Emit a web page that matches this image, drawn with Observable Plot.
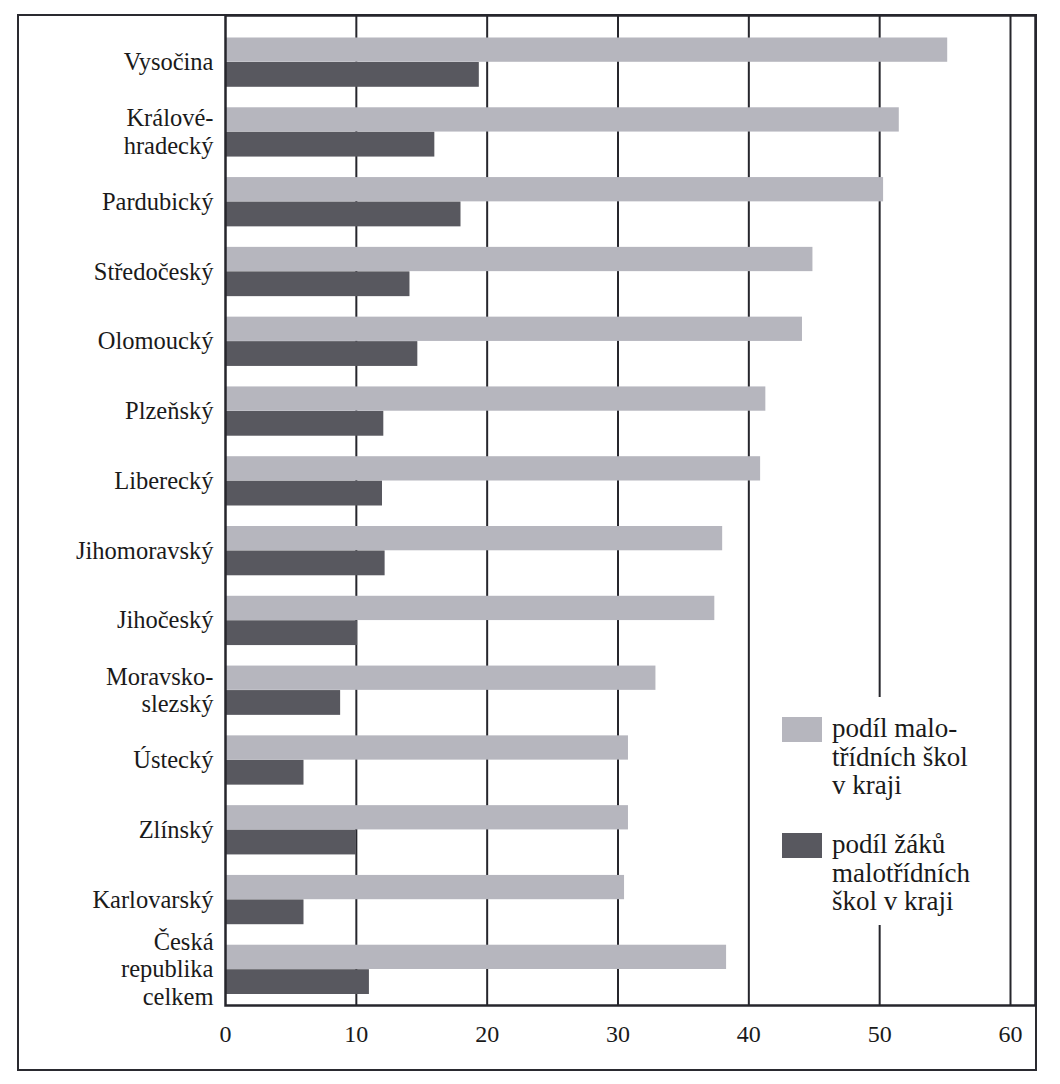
<!DOCTYPE html>
<html>
<head>
<meta charset="utf-8">
<script src="https://cdn.jsdelivr.net/npm/d3@7"></script>
<script src="https://cdn.jsdelivr.net/npm/@observablehq/plot@0.6"></script>
<style>
  html, body { margin: 0; padding: 0; background: #ffffff; }
  #wrap { position: relative; width: 1060px; height: 1084px; background: #ffffff; overflow: hidden; }
  #outer { position: absolute; left: 17px; top: 14px; width: 1016px; height: 1053px; border: 2.5px solid #2a2a30; box-sizing: content-box; }
  #chart { position: absolute; left: 0; top: 0; }
  #legend { position: absolute; left: 770px; top: 697px; width: 228px; height: 228px; background: #ffffff;
            font-family: "Liberation Serif", "Times New Roman", serif; font-size: 27px; color: #1a1a1a; }
  .item { position: absolute; left: 12px; }
  .sw { position: absolute; left: 0; width: 40px; height: 25px; }
  .tx { position: absolute; left: 50px; top: -3px; white-space: pre; line-height: 28.5px; }
</style>
</head>
<body>
<div id="wrap">
  <div id="outer"></div>
  <div id="chart"></div>
  <div id="legend"></div>
</div>
<script>
// Regions (category labels, line breaks as in the original)
const regions = [
  "Vysočina",
  "Králové-\nhradecký",
  "Pardubický",
  "Středočeský",
  "Olomoucký",
  "Plzeňský",
  "Liberecký",
  "Jihomoravský",
  "Jihočeský",
  "Moravsko-\nslezský",
  "Ústecký",
  "Zlínský",
  "Karlovarský",
  "Česká\nrepublika\ncelkem"
];

// Share of small (multi-grade) schools in the region, %
const schoolShare = [55.2, 51.5, 50.3, 44.9, 44.1, 41.3, 40.9, 38.0, 37.4, 32.9, 30.8, 30.8, 30.5, 38.3];

// Share of pupils attending small schools in the region, %
const pupilShare = [19.4, 16.0, 18.0, 14.1, 14.7, 12.1, 12.0, 12.2, 10.1, 8.8, 6.0, 10.0, 6.0, 11.0];

// Axis ticks
const xTicks = [0, 10, 20, 30, 40, 50, 60];

// Series names (legend)
const seriesNames = ["podíl malo-\ntřídních škol\nv kraji", "podíl žáků\nmalotřídních\nškol v kraji"];
const seriesColors = ["#b6b6be", "#58585f"];

const rows = regions.map((r, i) => ({region: r, schools: schoolShare[i], pupils: pupilShare[i]}));

const chart = Plot.plot({
  width: 1060,
  height: 1084,
  marginLeft: 225,
  marginRight: 25,
  marginTop: 15,
  marginBottom: 79,
  x: {domain: [0, 60], range: [225, 1010], axis: null},
  y: {domain: regions, range: [26, 1003], padding: 0, round: false, axis: null},
  style: {fontFamily: "'Liberation Serif', 'Times New Roman', serif", fontSize: "26px", background: "transparent", color: "#1a1a1a"},
  marks: [
    Plot.ruleX(xTicks.slice(1), {stroke: "#26262c", strokeWidth: 2}),
    Plot.barX(rows, {x: "schools", y: "region", fill: seriesColors[0], insetTop: 11.5, insetBottom: 34}),
    Plot.barX(rows, {x: "pupils", y: "region", fill: seriesColors[1], insetTop: 36, insetBottom: 9}),
    Plot.text(regions, {y: d => d, text: d => d, frameAnchor: "left", textAnchor: "end", dx: -12, lineHeight: 1.12, fontSize: 24.5, fill: "#1a1a1a"}),
    Plot.text(xTicks, {x: d => d, text: d => String(d), frameAnchor: "bottom", dy: 36, fontSize: 24, fill: "#1a1a1a"}),
    Plot.frame({stroke: "#26262c", strokeWidth: 2.5})
  ]
});
document.getElementById("chart").appendChild(chart);

// Legend inside the plot area
const legend = d3.select("#legend");
const tops = [20, 136];
seriesNames.forEach((name, i) => {
  const item = legend.append("div").attr("class", "item").style("top", tops[i] + "px");
  item.append("div").attr("class", "sw").style("background", seriesColors[i]);
  item.append("div").attr("class", "tx").text(name);
});
</script>
</body>
</html>
